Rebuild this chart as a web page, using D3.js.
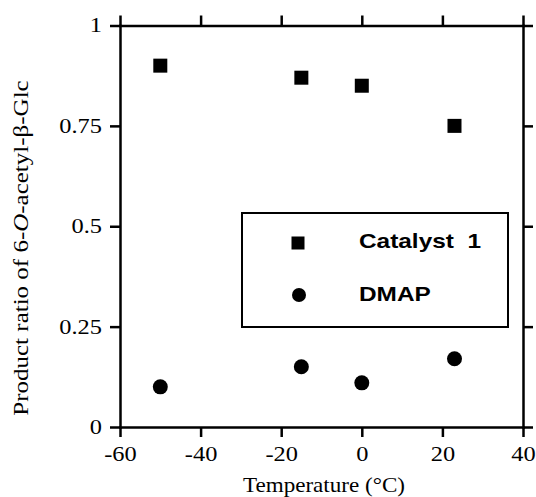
<!DOCTYPE html>
<html>
<head>
<meta charset="UTF-8">
<title>Product ratio vs temperature</title>
<style>
    body {
        margin: 0;
        padding: 0;
        background-color: #fff;
    }
</style>
</head>
<body>
<svg id="chart" width="536" height="497"></svg>

<script src="https://d3js.org/d3.v7.min.js"></script>
<script>
    // 数据
    var temps = [-50, -15, 0, 23];
    var catalyst1 = [0.90, 0.87, 0.85, 0.75];
    var dmap = [0.10, 0.15, 0.11, 0.17];
    var xTicks = [-60, -40, -20, 0, 20, 40];
    var yTicks = [0, 0.25, 0.5, 0.75, 1];
    var yTickLabels = ["0", "0.25", "0.5", "0.75", "1"];
    var seriesNames = ["Catalyst\u00A0\u00A01", "DMAP"];

    var serif = "'Liberation Serif', 'Times New Roman', serif";
    var sans = "'Liberation Sans', Arial, sans-serif";
    var stretch = 1.22; // 原图文字横向拉宽

    var svg = d3.select("#chart");

    // 比例尺
    var xScale = d3.scaleLinear().domain([-60, 40]).range([120, 523]);
    var yScale = d3.scaleLinear().domain([0, 1]).range([427, 25.5]);

    var tickLen = 10;
    var axisStroke = 2.5;

    // 四条边框轴
    var axes = [
        { axis: d3.axisBottom(xScale), tr: "translate(0," + yScale(0) + ")", labels: true },
        { axis: d3.axisTop(xScale), tr: "translate(0," + yScale(1) + ")", labels: false },
        { axis: d3.axisLeft(yScale), tr: "translate(" + xScale(-60) + ",0)", labels: true },
        { axis: d3.axisRight(yScale), tr: "translate(" + xScale(40) + ",0)", labels: false }
    ];

    axes.forEach(function(a, i) {
        var isX = i < 2;
        a.axis.tickValues(isX ? xTicks : yTicks)
            .tickSizeInner(tickLen)
            .tickSizeOuter(0)
            .tickPadding(8);
        if (isX) {
            a.axis.tickFormat(function(d) { return String(d); });
        } else {
            a.axis.tickFormat(function(d, j) { return yTickLabels[j]; });
        }
        var g = svg.append("g").attr("transform", a.tr).call(a.axis);
        g.select(".domain")
            .attr("stroke", "#000")
            .attr("stroke-width", axisStroke)
            .attr("stroke-linecap", "square");
        g.selectAll(".tick line")
            .attr("stroke", "#000")
            .attr("stroke-width", axisStroke);
        var txt = g.selectAll(".tick text")
            .attr("fill", "#000")
            .style("font-family", serif)
            .style("font-size", "20px")
            .style("display", a.labels ? null : "none");
        if (i === 0) {
            txt.attr("dy", "0.8em")
                .attr("transform", "scale(" + stretch + ",1)");
        }
        if (i === 2) {
            txt.attr("x", -18 / stretch)
                .attr("transform", "scale(" + stretch + ",1)");
        }
    });

    // 轴标题
    svg.append("text")
        .attr("text-anchor", "middle")
        .attr("transform", "translate(324,492) scale(1.1,1)")
        .style("font-family", serif)
        .style("font-size", "21px")
        .attr("fill", "#000")
        .text("Temperature (°C)");

    var yTitle = svg.append("text")
        .attr("text-anchor", "middle")
        .attr("transform", "translate(28,248) rotate(-90) scale(1.25,1)")
        .style("font-family", serif)
        .style("font-size", "20px")
        .attr("fill", "#000");
    yTitle.append("tspan").text("Product ratio of 6-");
    yTitle.append("tspan").style("font-style", "italic").text("O");
    yTitle.append("tspan").text("-acetyl-β-Glc");

    // 点
    var sq = 14;
    svg.selectAll(".sq")
        .data(temps)
        .enter()
        .append("rect")
        .attr("class", "sq")
        .attr("x", function(d) { return xScale(d) - sq / 2; })
        .attr("y", function(d, i) { return yScale(catalyst1[i]) - sq / 2; })
        .attr("width", sq)
        .attr("height", sq)
        .attr("fill", "#000");

    svg.selectAll(".dot")
        .data(temps)
        .enter()
        .append("circle")
        .attr("class", "dot")
        .attr("cx", function(d) { return xScale(d); })
        .attr("cy", function(d, i) { return yScale(dmap[i]); })
        .attr("r", 7.5)
        .attr("fill", "#000");

    // 图例
    var lg = svg.append("g").attr("transform", "translate(242,213)");
    lg.append("rect")
        .attr("width", 266)
        .attr("height", 114)
        .attr("fill", "#fff")
        .attr("stroke", "#000")
        .attr("stroke-width", 2);
    lg.append("rect")
        .attr("x", 56 - 13 / 2)
        .attr("y", 30 - 13 / 2)
        .attr("width", 13)
        .attr("height", 13)
        .attr("fill", "#000");
    lg.append("circle")
        .attr("cx", 57)
        .attr("cy", 82)
        .attr("r", 7)
        .attr("fill", "#000");
    lg.selectAll(".legend-text")
        .data(seriesNames)
        .enter()
        .append("text")
        .attr("class", "legend-text")
        .attr("transform", function(d, i) {
            return "translate(117," + (i === 0 ? 35 : 88) + ") scale(" + stretch + ",1)";
        })
        .style("font-family", sans)
        .style("font-weight", "bold")
        .style("font-size", "20px")
        .attr("fill", "#000")
        .text(function(d) { return d; });
</script>
</body>
</html>
